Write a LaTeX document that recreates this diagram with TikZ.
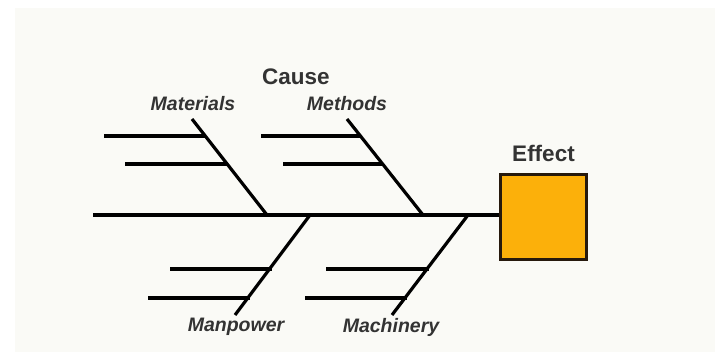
\documentclass[tikz,border=0pt]{standalone}
\usepackage{fontspec}
\setmainfont{Liberation Sans}
\definecolor{amber}{RGB}{252,176,10}
\definecolor{paper}{RGB}{250,250,246}
\begin{document}
\begin{tikzpicture}[x=1pt,y=-1pt,
  bone/.style={line width=3.2pt,black},
  lbl/.style={text=black!80,font=\fontsize{19.5}{19.5}\selectfont\bfseries\itshape,inner sep=0pt},
  ttl/.style={text=black!80,font=\fontsize{22.5}{22.5}\selectfont\bfseries,inner sep=0pt},
  effbox/.style={draw=black!80!brown,line width=2.2pt,fill=amber,minimum width=86pt,minimum height=85pt,inner sep=0pt}]
\useasboundingbox[fill=white] (0,0) rectangle (715,352);
\fill[paper] (15,8) rectangle (715,352);
% effect box
\node[effbox] (eff) at (543.5,217) {};
\node[ttl] (efft) at (543.5,153) {Effect};
\node[ttl] (cause) at (296,77) {Cause};
% spine
\coordinate (tail) at (93,215);
\draw[bone] (tail) -- (eff.west |- tail);
% bone coordinates
\coordinate (matT) at (192,119); \coordinate (matB) at (267,215);
\coordinate (metT) at (347,119); \coordinate (metB) at (423,215);
\coordinate (manT) at (310,215); \coordinate (manB) at (235,315);
\coordinate (macT) at (468,215); \coordinate (macB) at (392,315);
\draw[bone] (matT) -- (matB);
\draw[bone] (metT) -- (metB);
\draw[bone] (manT) -- (manB);
\draw[bone] (macT) -- (macB);
% ribs
\coordinate (r1a) at (104,136); \coordinate (r1b) at (205,136);
\coordinate (r2a) at (125,164); \coordinate (r2b) at (227,164);
\coordinate (r3a) at (261,136); \coordinate (r3b) at (361,136);
\coordinate (r4a) at (283,164); \coordinate (r4b) at (383,164);
\coordinate (r5a) at (170,269); \coordinate (r5b) at (272,269);
\coordinate (r6a) at (148,298); \coordinate (r6b) at (250,298);
\coordinate (r7a) at (326,269); \coordinate (r7b) at (429,269);
\coordinate (r8a) at (305,298); \coordinate (r8b) at (407,298);
\foreach \i in {1,...,8}{\draw[bone] (r\i a) -- (r\i b);}
% labels
\node[lbl] (mat) at (193,104) {Materials};
\node[lbl] (met) at (347,104) {Methods};
\node[lbl] (man) at (236,327) {Manpower};
\node[lbl] (mac) at (391,327) {Machinery};
\end{tikzpicture}
\end{document}
